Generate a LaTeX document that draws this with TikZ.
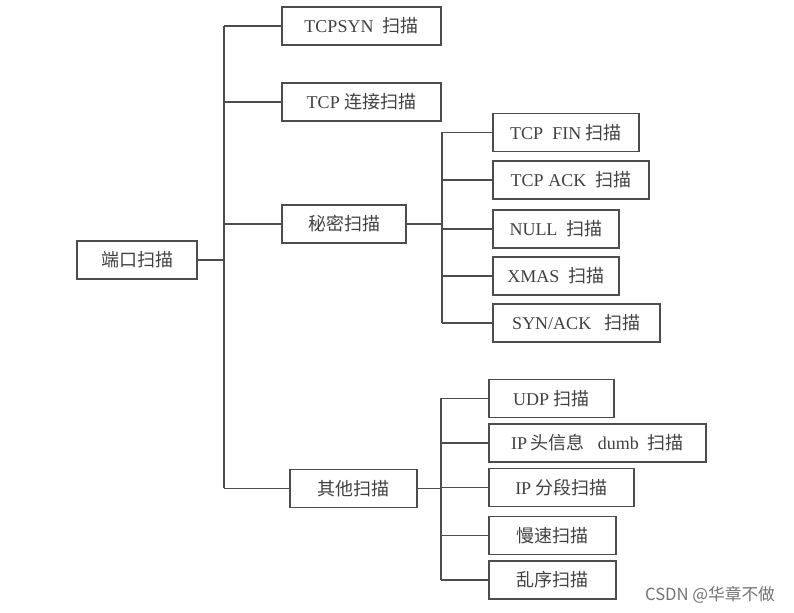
\documentclass[tikz,border=0pt]{standalone}
\usepackage{fontspec}
\setmainfont{Liberation Serif}
\newfontfamily\cjk{Noto Sans CJK SC}
\newcommand{\zh}[1]{{\cjk #1}}
\tikzset{
  box/.style={draw=black!70,line width=1.1pt,inner sep=0pt,
    minimum height=38*0.75pt,text=black!75,font=\fontsize{13.5}{15}\selectfont},
  link/.style={draw=black!70,line width=1.1pt},
}
\begin{document}
\begin{tikzpicture}[x=0.75pt,y=-0.75pt]
  \useasboundingbox (0,0) rectangle (794,613);
  % root and first level
  \node[box,minimum width=120*0.75pt] (port) at (137,260) {\zh{端口扫描}};
  \node[box,minimum width=159*0.75pt] (syn) at (361.5,26) {TCPSYN\ \ \zh{扫描}};
  \node[box,minimum width=159*0.75pt] (conn) at (361.5,102) {TCP\ \zh{连接扫描}};
  \node[box,minimum width=124*0.75pt] (secret) at (344,224) {\zh{秘密扫描}};
  \node[box,minimum width=127*0.75pt] (other) at (353.5,488.5) {\zh{其他扫描}};
  % stealth scans
  \node[box,minimum width=146*0.75pt] (fin) at (566,132.5) {TCP\ \ FIN\ \zh{扫描}};
  \node[box,minimum width=156*0.75pt] (ack) at (571,180) {TCP ACK\ \ \zh{扫描}};
  \node[box,minimum width=126*0.75pt] (null) at (556,229) {NULL\ \ \zh{扫描}};
  \node[box,minimum width=126*0.75pt] (xmas) at (556,276) {XMAS\ \ \zh{扫描}};
  \node[box,minimum width=167*0.75pt] (synack) at (576.5,323) {SYN/ACK\ \ \ \zh{扫描}};
  % other scans
  \node[box,minimum width=125*0.75pt] (udp) at (551.5,398.5) {UDP\ \zh{扫描}};
  \node[box,minimum width=217*0.75pt] (iphead) at (597.5,443) {IP\,\zh{头信息}\ \ \ dumb\ \ \zh{扫描}};
  \node[box,minimum width=145*0.75pt] (ipfrag) at (561.5,487.5) {IP\ \zh{分段扫描}};
  \node[box,minimum width=127*0.75pt] (slow) at (552.5,535.5) {\zh{慢速扫描}};
  \node[box,minimum width=127*0.75pt] (disorder) at (552.5,580) {\zh{乱序扫描}};
  % trunks
  \coordinate (t0) at (224,0);
  \coordinate (t1) at (442,0);
  \coordinate (t2) at (441,0);
  \draw[link] (port.east) -- (port.east -| t0);
  \draw[link] (t0 |- syn.west) -- (t0 |- other.west);
  \foreach \n in {syn,conn,secret,other}
    \draw[link] (t0 |- \n.west) -- (\n.west);
  \draw[link] (secret.east) -- (secret.east -| t1);
  \draw[link] (t1 |- fin.west) -- (t1 |- synack.west);
  \foreach \n in {fin,ack,null,xmas,synack}
    \draw[link] (t1 |- \n.west) -- (\n.west);
  \draw[link] (other.east) -- (other.east -| t2);
  \draw[link] (t2 |- udp.west) -- (t2 |- disorder.west);
  \foreach \n in {udp,iphead,ipfrag,slow,disorder}
    \draw[link] (t2 |- \n.west) -- (\n.west);
  % watermark
  \node[text=black!55,font=\cjk\fontsize{12.5}{14}\selectfont] (mark) at (710,595) {CSDN @华章不做};
\end{tikzpicture}
\end{document}
